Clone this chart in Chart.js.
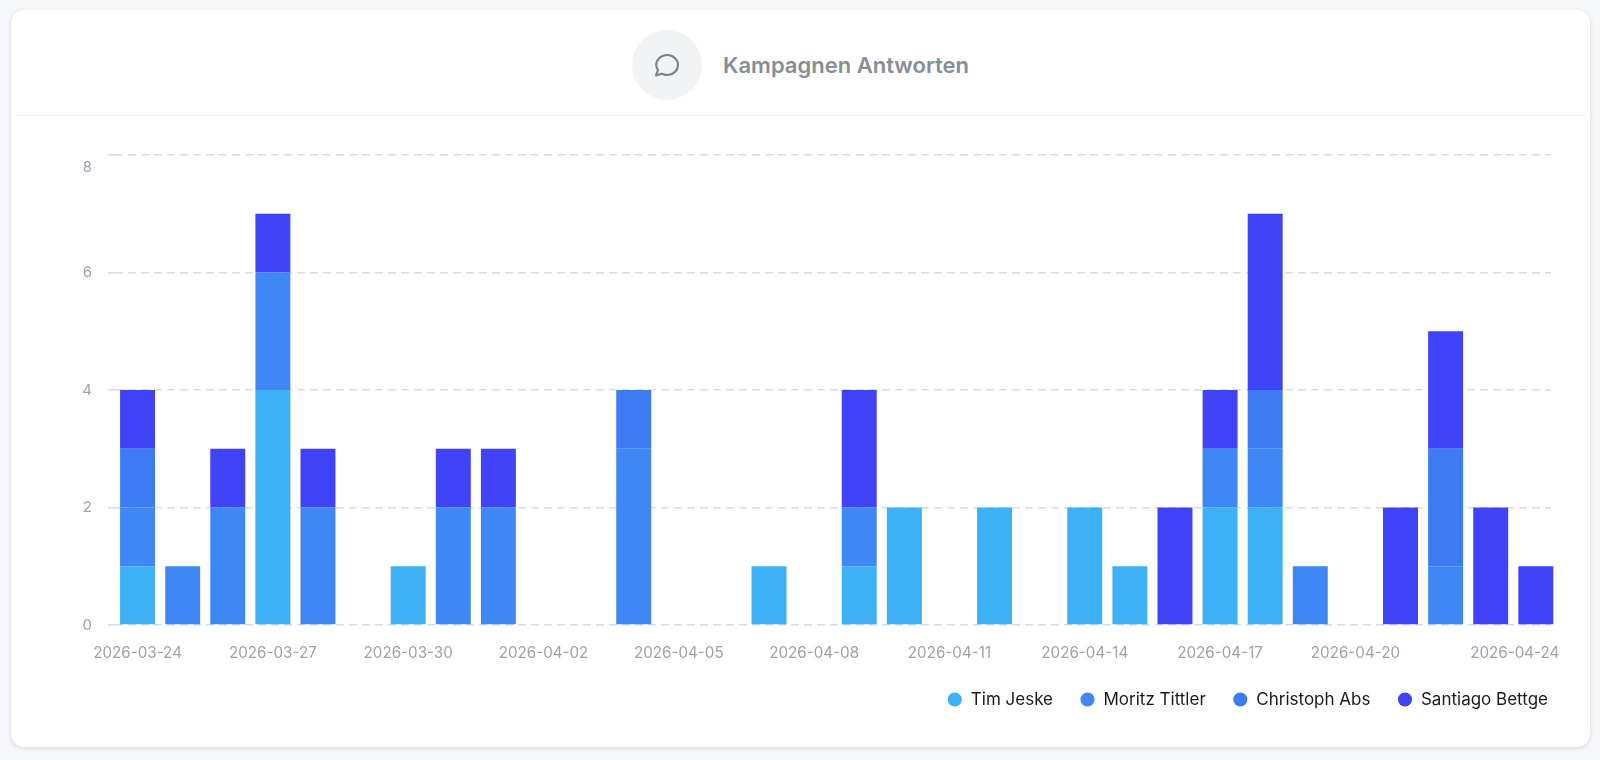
<!DOCTYPE html>
<html><head><meta charset="utf-8"><title>Kampagnen Antworten</title>
<script src="https://cdn.jsdelivr.net/npm/chart.js@4"></script>
<style>
html,body{margin:0;padding:0;width:1600px;height:760px;overflow:hidden;background:#f7f8fa;font-family:Inter,sans-serif}
#card{position:absolute;left:11px;top:10px;width:1579px;height:737px;background:#fff;border-radius:13px;box-shadow:0 1px 4px rgba(40,50,70,.18)}
#div{position:absolute;left:16px;top:115px;width:1569px;height:1px;background:#e9ecef}
#ic{position:absolute;left:632px;top:30px;width:70px;height:70px;border-radius:50%;background:#f1f3f5}
#ic svg{position:absolute;left:20px;top:20px;width:30px;height:30px}
#ttl{position:absolute;left:723px;top:50px;line-height:30px;font-size:22px;font-weight:600;color:#868e96;white-space:nowrap}
#wrap{position:absolute;left:0;top:0;width:1600px;height:760px}
</style></head><body>
<div id="card"></div><div id="div"></div>
<div id="ic"><svg viewBox="0 0 24 24" fill="none" stroke="#7a828a" stroke-width="1.7" stroke-linecap="round" stroke-linejoin="round"><path d="M3.2 20.3l1.6-4.2C3.9 14.9 3.4 13.5 3.4 12c0-4.4 3.9-8 8.7-8s8.7 3.6 8.7 8-3.9 8-8.7 8c-1.5 0-3-.4-4.3-1z"/></svg></div>
<div id="ttl">Kampagnen Antworten</div>
<div id="wrap"><canvas id="c" width="1600" height="760"></canvas></div>
<script>
const categories=["2026-03-24","2026-03-25","2026-03-26","2026-03-27","2026-03-28","2026-03-29","2026-03-30","2026-03-31","2026-04-01","2026-04-02","2026-04-03","2026-04-04","2026-04-05","2026-04-06","2026-04-07","2026-04-08","2026-04-09","2026-04-10","2026-04-11","2026-04-12","2026-04-13","2026-04-14","2026-04-15","2026-04-16","2026-04-17","2026-04-18","2026-04-19","2026-04-20","2026-04-21","2026-04-22","2026-04-23","2026-04-24"];
const shownTicks=["2026-03-24","2026-03-27","2026-03-30","2026-04-02","2026-04-05","2026-04-08","2026-04-11","2026-04-14","2026-04-17","2026-04-20","2026-04-24"];
const timJeske=[1,0,0,4,0,0,1,0,0,0,0,0,0,0,1,0,1,2,0,2,0,2,1,0,2,2,0,0,0,0,0,0];
const moritzTittler=[1,1,2,2,2,0,0,2,2,0,0,3,0,0,0,0,1,0,0,0,0,0,0,0,1,1,1,0,0,1,0,0];
const christophAbs=[1,0,0,0,0,0,0,0,0,0,0,1,0,0,0,0,0,0,0,0,0,0,0,0,0,1,0,0,0,2,0,0];
const santiagoBettge=[1,0,1,1,1,0,0,1,1,0,0,0,0,0,0,0,2,0,0,0,0,0,0,2,1,3,0,0,2,2,2,1];
const yMax=8, yStep=2;
const font='Inter';
const ds=(label,data,color)=>({label,data,backgroundColor:color,borderWidth:0,barPercentage:.775,categoryPercentage:1,stack:'s'});
const tweak={id:'tweak',
 afterLayout(ch){ch.legend.left+=12;ch.legend.right+=12;},
 beforeDraw(ch){
  const xi=ch.scales.x.getLabelItems(),yi=ch.scales.y.getLabelItems();
  xi.forEach(it=>{if(it.label==='2026-04-24'&&!it.moved){it.moved=1;it.options.translation[0]-=21;}});
  yi.forEach(it=>{if(it.label==='8'&&!it.moved){it.moved=1;it.options.translation[1]+=12;}});
 },
 beforeDatasetsDraw(ch){const a=ch.chartArea;ch.ctx.clearRect(a.right-7,a.top-3,9,a.bottom-a.top+6);}
};
new Chart(document.getElementById('c'),{type:'bar',
 data:{labels:categories,datasets:[
  ds('Tim Jeske',timJeske,'#3DB0F6'),
  ds('Moritz Tittler',moritzTittler,'#3F87F5'),
  ds('Christoph Abs',christophAbs,'#3D7BF3'),
  ds('Santiago Bettge',santiagoBettge,'#3F43F5')]},
 plugins:[tweak],
 options:{responsive:false,animation:false,
  layout:{padding:{left:0,right:37,top:155,bottom:42}},
  plugins:{tooltip:{enabled:false},title:{display:false},
   legend:{position:'bottom',align:'end',labels:{usePointStyle:true,pointStyle:'circle',boxHeight:10,boxWidth:15,padding:27,color:'#1a1a1a',font:{family:font,size:17}}}},
  scales:{
   x:{stacked:true,grid:{display:false,drawTicks:false},border:{display:false},
      afterFit(s){s.height=39;},
      ticks:{autoSkip:false,maxRotation:0,minRotation:0,padding:19,color:'#9ca3af',font:{family:font,size:15.2},
       callback(v,i){const l=categories[i];return shownTicks.includes(l)?l:'';}}},
   y:{stacked:true,min:0,max:yMax,afterFit(s){s.width=115;},
      border:{display:false,dash:[8,5]},
      grid:{color:'#d8dbe0',lineWidth:1.5,tickLength:7,tickColor:'#d8dbe0',tickBorderDash:[8,5]},
      ticks:{stepSize:yStep,padding:16,color:'#9ca3af',font:{family:font,size:15}}}
  }}});
</script></body></html>
